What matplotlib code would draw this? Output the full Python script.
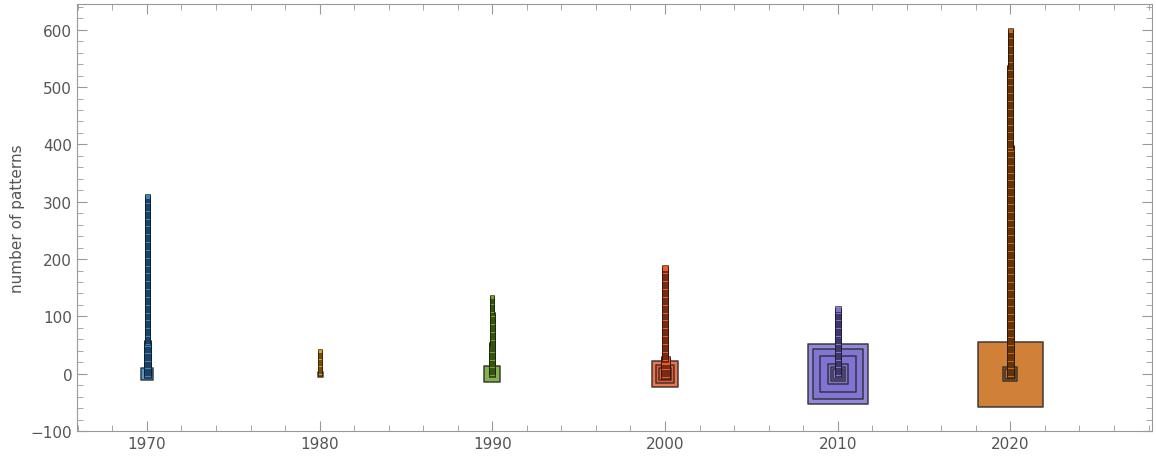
import matplotlib
matplotlib.use("Agg")
import matplotlib.pyplot as plt
from matplotlib.ticker import MultipleLocator
import numpy as np

# ---- data ----
decades = [1970, 1980, 1990, 2000, 2010, 2020]
colors = ["#3B87C5", "#E6A020", "#6FA52A", "#EE5A2A", "#7F73D6", "#C86A14"]
# stack segments: (lowest count, highest count, marker size in px)
stack_segments = [
    [(0, 55, 7), (56, 310, 5)],
    [(0, 40, 4)],
    [(0, 50, 6), (51, 105, 5), (106, 135, 4)],
    [(0, 25, 9), (26, 185, 6)],
    [(0, 113, 6)],
    [(0, 395, 7), (396, 535, 6), (536, 600, 5)],
]
# nested squares at zero (px sizes)
base_squares = [
    [12],
    [5],
    [16],
    [26, 18, 12],
    [60, 50, 36, 20, 14, 10],
    [65, 14, 10],
]

fig = plt.figure(figsize=(11.56, 4.6), dpi=100)
ax = fig.add_axes([77/1156, 1-432/460, (1152-77)/1156, (432-5)/460])

def px2s(p):
    return (p*72/100.0)**2

for d, c, segs, bases in zip(decades, colors, stack_segments, base_squares):
    for sz in bases:
        ax.scatter([d], [0], s=px2s(sz), marker="s", facecolor=c, edgecolor="#30303070",
                   linewidth=1.2, alpha=0.85, zorder=2)
    for lo, hi, sz in segs:
        ys = np.arange(lo, hi+1, 2)
        ax.scatter(np.full(len(ys), d), ys, s=px2s(sz), marker="s", facecolor=c,
                   edgecolor="#00000040", linewidth=0.4, alpha=0.9, zorder=3)

ax.set_xlim(1965.95, 2028.2)
ax.set_ylim(-100, 645)
ax.set_xticks(decades)
ax.set_yticks(range(-100, 601, 100))
ax.set_yticklabels(["\u2212100"] + [str(v) for v in range(0, 601, 100)])
ax.xaxis.set_minor_locator(MultipleLocator(2))
ax.yaxis.set_minor_locator(MultipleLocator(20))
ax.tick_params(which="both", direction="in", top=True, right=True, color="#999999",
               labelcolor="#555555", labelsize=11)
ax.tick_params(which="major", length=7)
ax.tick_params(which="minor", length=4)
for s in ax.spines.values():
    s.set_color("#999999")
ax.set_ylabel("number of patterns", color="#555555", fontsize=11)
fig.savefig("out.png", dpi=100)
